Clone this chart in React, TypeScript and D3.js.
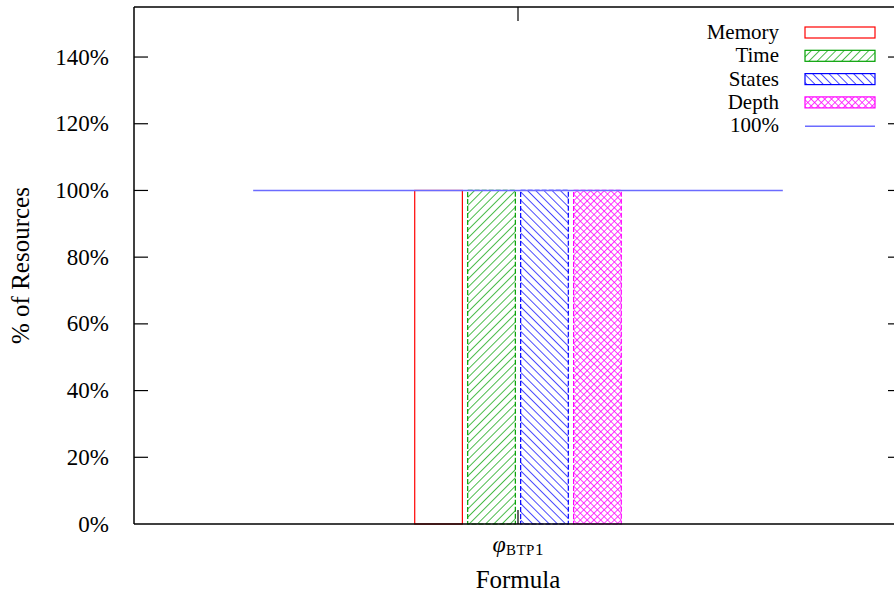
import React from "react";
import * as d3 from "d3";

// chart values
const categories = ["BTP1"];
const seriesNames = ["Memory", "Time", "States", "Depth"];
const seriesValues = [100, 100, 100, 100];
const yTickValues = [0, 20, 40, 60, 80, 100, 120, 140];
const referenceLabel = "100%";
const referenceValue = 100;

const seriesColors = ["#ff0000", "#00a000", "#0000ff", "#ff00ff"];
const fills = ["#ffffff", "url(#pat-time)", "url(#pat-states)", "url(#pat-depth)"];

const W = 894;
const H = 599;
const left = 134;
const right = 902;
const top = 7;
const bottom = 524;
const font = "'Liberation Serif', 'DejaVu Serif', serif";

export default function App() {
  const y = d3.scaleLinear().domain([0, 155]).range([bottom, top]);
  // x in plot units, one cluster centred on 0
  const x = d3.scaleLinear().domain([-0.725, 0.725]).range([left, right]);
  const group = d3
    .scaleBand<string>()
    .domain(seriesNames)
    .range([x(-0.195), x(0.195)])
    .paddingInner(0.1);

  const legendTextX = 779;
  const legendSampleX = 805;
  const legendSampleW = 70;
  const legendRow = (i: number) => 39 + i * 23.3;

  return (
    <svg width={W} height={H} style={{ position: "absolute", left: 0, top: 0, background: "#fff" }}>
      <defs>
        <pattern id="pat-time" patternUnits="userSpaceOnUse" width="5.8" height="10" patternTransform="rotate(45)">
          <line x1="0" y1="0" x2="0" y2="10" stroke="#00a000" strokeWidth="1.4" />
        </pattern>
        <pattern id="pat-states" patternUnits="userSpaceOnUse" width="5.8" height="10" patternTransform="rotate(-45)">
          <line x1="0" y1="0" x2="0" y2="10" stroke="#0000ff" strokeWidth="1.4" />
        </pattern>
        <pattern id="pat-depth" patternUnits="userSpaceOnUse" width="4.8" height="4.8" patternTransform="rotate(45)">
          <line x1="0" y1="0" x2="0" y2="4.8" stroke="#ff00ff" strokeWidth="1.5" />
          <line x1="0" y1="0" x2="4.8" y2="0" stroke="#ff00ff" strokeWidth="1.5" />
        </pattern>
      </defs>

      {/* bars */}
      {seriesNames.map((s, i) => {
        const bx = group(s)!;
        const yTop = y(seriesValues[i]);
        return (
          <rect
            key={s}
            x={bx}
            y={yTop}
            width={group.bandwidth()}
            height={y(0) - yTop}
            fill={fills[i]}
            stroke={seriesColors[i]}
            strokeWidth={1.2}
            strokeDasharray={i === 0 ? undefined : "5,2"}
          />
        );
      })}

      {/* 100% line */}
      <line x1={x(-0.5)} x2={x(0.5)} y1={y(referenceValue)} y2={y(referenceValue)} stroke="#6b6bff" strokeWidth={1.6} />

      {/* frame */}
      <g stroke="#000" strokeWidth={1.5} fill="none">
        <line x1={left} x2={left} y1={top} y2={bottom} />
        <line x1={left} x2={right} y1={top} y2={top} />
        <line x1={left} x2={right} y1={bottom} y2={bottom} />
        <line x1={right} x2={right} y1={top} y2={bottom} />
      </g>

      {/* y ticks */}
      {yTickValues.map((v) => (
        <g key={v}>
          {v > 0 && (
            <>
              <line x1={left} x2={left + 14} y1={y(v)} y2={y(v)} stroke="#000" strokeWidth={1.2} />
              <line x1={right} x2={right - 14} y1={y(v)} y2={y(v)} stroke="#000" strokeWidth={1.2} />
            </>
          )}
          <text x={109} y={y(v)} dy="0.33em" textAnchor="end" fontFamily={font} fontSize={23} fill="#000">
            {v}%
          </text>
        </g>
      ))}

      {/* x tick */}
      {categories.map((c) => (
        <g key={c}>
          <line x1={x(0)} x2={x(0)} y1={bottom} y2={bottom - 14} stroke="#000" strokeWidth={1.2} />
          <line x1={x(0)} x2={x(0)} y1={top} y2={top + 14} stroke="#000" strokeWidth={1.2} />
          <text x={x(0)} y={552} textAnchor="middle" fontFamily={font} fontSize={24} fill="#000">
            <tspan fontStyle="italic">{"\u03C6"}</tspan>
            <tspan fontSize={15} dy={3} letterSpacing={0.5}>{c.slice(0, 3)}</tspan>
            <tspan fontSize={17}>{c.slice(3)}</tspan>
          </text>
        </g>
      ))}

      {/* axis titles */}
      <text x={518} y={588} textAnchor="middle" fontFamily={font} fontSize={25} fill="#000">
        Formula
      </text>
      <text
        transform={`translate(29,${(top + bottom) / 2}) rotate(-90)`}
        textAnchor="middle"
        fontFamily={font}
        fontSize={25}
        fill="#000"
      >
        % of Resources
      </text>

      {/* legend */}
      {seriesNames.map((s, i) => (
        <g key={s}>
          <text x={legendTextX} y={legendRow(i)} textAnchor="end" fontFamily={font} fontSize={21} fill="#000">
            {s}
          </text>
          <rect
            x={legendSampleX}
            y={legendRow(i) - 12}
            width={legendSampleW}
            height={11}
            fill={fills[i]}
            stroke={seriesColors[i]}
            strokeWidth={1.2}
          />
        </g>
      ))}
      <text x={legendTextX} y={legendRow(4)} textAnchor="end" fontFamily={font} fontSize={21} fill="#000">
        {referenceLabel}
      </text>
      <line
        x1={legendSampleX}
        x2={legendSampleX + legendSampleW}
        y1={legendRow(4) - 6}
        y2={legendRow(4) - 6}
        stroke="#6b6bff"
        strokeWidth={1.6}
      />
    </svg>
  );
}
